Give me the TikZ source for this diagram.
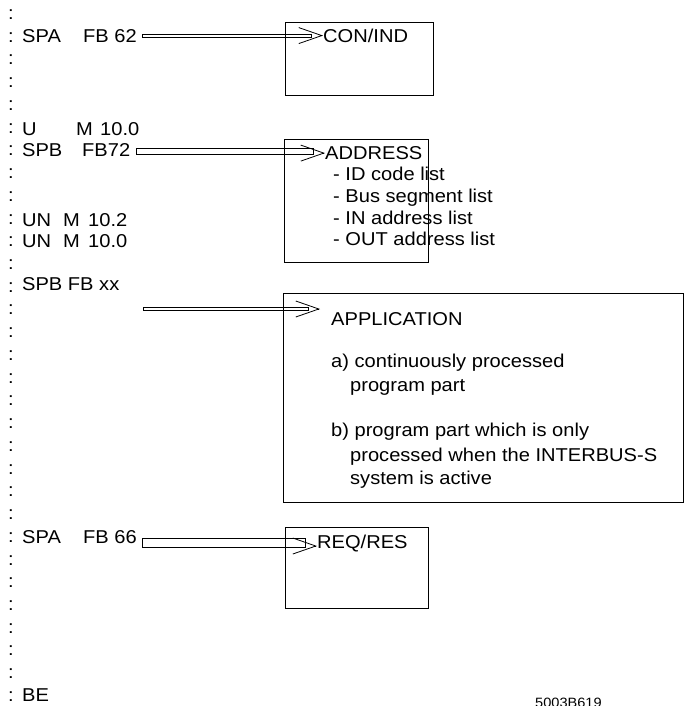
\documentclass[tikz,border=0pt]{standalone}
\usepackage{fontspec}
\setmainfont{Liberation Sans}[FakeStretch=1.08]
\usetikzlibrary{arrows.meta}
\tikzset{
  txt/.style={inner sep=0pt, anchor=base west, font=\fontsize{18.6}{22}\selectfont},
  small/.style={inner sep=0pt, anchor=base west, font=\fontsize{13.5}{16}\selectfont},
  boxline/.style={draw=black, line width=0.8pt},
  shaft/.style={draw=black, line width=0.6pt},
  barb/.style={draw=black, line width=0.8pt, -{Straight Barb[length=23pt,width=16pt,line width=0.8pt]}}
}
\newcommand{\rowb}[1]{19.5+22.73*#1}
\begin{document}
\begin{tikzpicture}[x=1pt,y=-1pt]
\useasboundingbox[fill=white] (0,0) rectangle (685,706);
% colon column
\foreach \i in {0,...,30}{
  \node[txt] (c\i) at (8,{\rowb{\i}}) {:};
}
% left program lines
\node[txt] (spa1) at (22,{\rowb{1}}) {SPA};
\node[txt] (fb62) at (83,{\rowb{1}}) {FB 62};
\node[txt] (u) at (22,{\rowb{5}+2}) {U};
\node[txt] (m1) at (76,{\rowb{5}+2}) {M};
\node[txt] (v1) at (100,{\rowb{5}+2}) {10.0};
\node[txt] (spb1) at (22,{\rowb{6}+1}) {SPB};
\node[txt] (fb72) at (82,{\rowb{6}+1}) {FB72};
\node[txt] (un1) at (22,{\rowb{9}+2}) {UN};
\node[txt] (m2) at (63,{\rowb{9}+2}) {M};
\node[txt] (v2) at (88,{\rowb{9}+2}) {10.2};
\node[txt] (un2) at (22,{\rowb{10}+1}) {UN};
\node[txt] (m3) at (63,{\rowb{10}+1}) {M};
\node[txt] (v3) at (88,{\rowb{10}+1}) {10.0};
\node[txt] (spbxx) at (22,{\rowb{12}-2}) {SPB FB xx};
\node[txt] (spa2) at (22,{\rowb{23}+1}) {SPA};
\node[txt] (fb66) at (83,{\rowb{23}+1}) {FB 66};
\node[txt] (be) at (22,{\rowb{30}}) {BE};
% boxes
\draw[boxline] (285,22) rectangle (433,95);
\draw[boxline] (284,139) rectangle (428,262);
\draw[boxline] (283,293) rectangle (683,502);
\draw[boxline] (285,527) rectangle (428,608);
% box texts
\node[txt] (conind) at (323,{\rowb{1}}) {CON/IND};
\node[txt] (address) at (325,159.5) {ADDRESS};
\node[txt] (a1) at (333,180) {- ID code list};
\node[txt] (a2) at (333,202) {- Bus segment list};
\node[txt] (a3) at (333,224) {- IN address list};
\node[txt] (a4) at (333,245) {- OUT address list};
\node[txt] (appl) at (331,325) {APPLICATION};
\node[txt] (pa) at (331,367) {a) continuously processed};
\node[txt] (pa2) at (350,391.5) {program part};
\node[txt] (pb) at (331,436.5) {b) program part which is only};
\node[txt] (pb2) at (350,461) {processed when the INTERBUS-S};
\node[txt] (pb3) at (350,484.5) {system is active};
\node[txt] (reqres) at (317,548) {REQ/RES};
\node[small] (code) at (535,707) {5003B619};
% arrows
\draw[shaft] ([shift={(5pt,1.7pt)}]fb62.east) rectangle ([shift={(-12pt,-1.7pt)}]conind.west);
\draw[barb] ([xshift=-2pt]conind.west) -- (conind.west);
\draw[shaft] ([shift={(6pt,1.7pt)}]fb72.east) rectangle ([shift={(-12pt,-1.7pt)}]address.west);
\draw[barb] ([xshift=-2pt]address.west) -- (address.west);
\coordinate (xxs) at (143,309);
\coordinate (xxt) at (320,309);
\draw[shaft] ([yshift=1.7pt]xxs) rectangle ([shift={(-12pt,-1.7pt)}]xxt);
\draw[barb] ([xshift=-2pt]xxt) -- (xxt);
\draw[shaft] ([shift={(5pt,-1.2pt)}]fb66.east) rectangle ([shift={(-12pt,-4.6pt)}]reqres.west);
\draw[barb] ([shift={(-2pt,-3pt)}]reqres.west) -- ([yshift=-3pt]reqres.west);
\end{tikzpicture}
\end{document}
